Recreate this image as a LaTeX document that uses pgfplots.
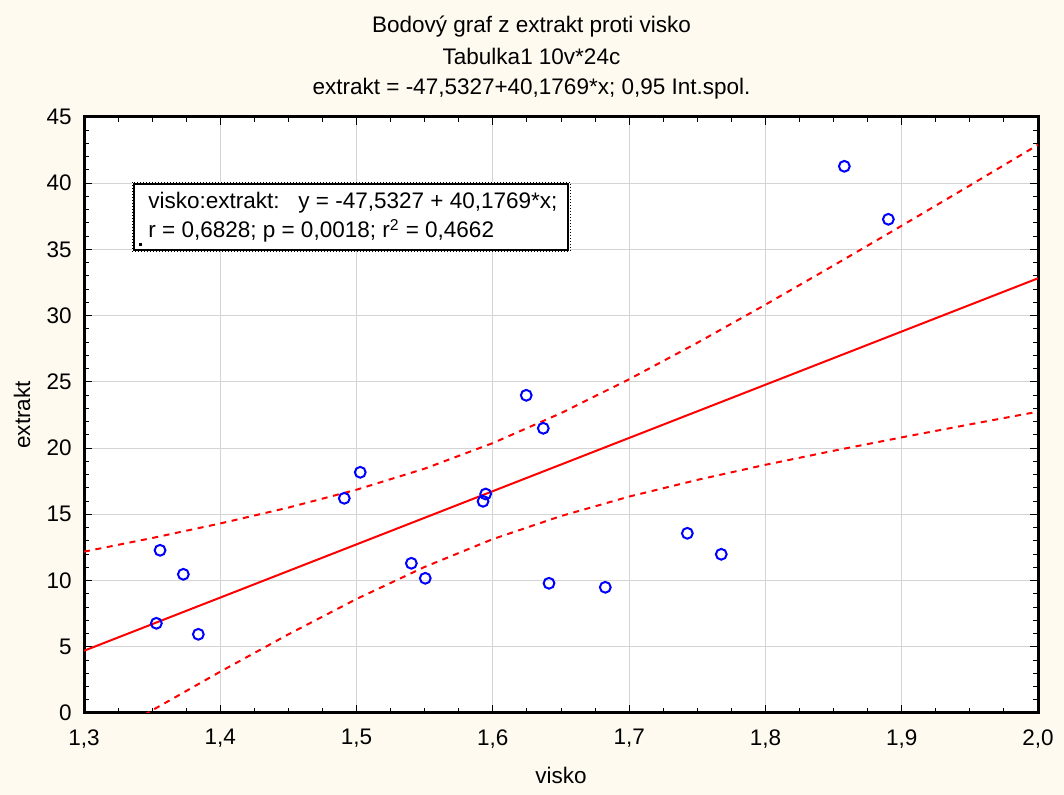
\documentclass[border=0pt]{standalone}
\usepackage{fontspec}
\setmainfont{Liberation Sans}
\usepackage{pgfplots}
\usepackage{pgfplotstable}
\pgfplotsset{compat=1.18}
\definecolor{bgcream}{RGB}{255,250,240}
\definecolor{gridgray}{RGB}{212,212,212}

\pgfplotstableread{
x y
1.3531 6.773
1.3558 12.285
1.3729 10.472
1.3839 5.942
1.4910 16.211
1.5027 18.174
1.5402 11.303
1.5504 10.170
1.5928 15.984
1.5947 16.535
1.6245 23.988
1.6370 21.496
1.6412 9.793
1.6825 9.491
1.7427 13.568
1.7676 11.983
1.8579 41.278
1.8902 37.276
}\pts

\pgfplotstableread{
x lo hi
1.30 -2.78 12.18
1.35 0.20 13.21
1.40 3.12 14.31
1.45 5.94 15.51
1.50 8.61 16.86
1.55 11.03 18.45
1.60 13.13 20.38
1.65 14.87 22.64
1.70 16.34 25.20
1.75 17.60 27.95
1.80 18.74 30.83
1.85 19.80 33.79
1.90 20.81 36.79
1.95 21.79 39.83
2.00 22.75 42.90
}\band

\begin{document}
\fontsize{11.25}{13.5}\selectfont
\begin{tikzpicture}
\fill[bgcream] (-42pt,-41pt) rectangle (490pt,356.5pt);
\begin{axis}[
  at={(0,0)}, anchor=south west,
  scale only axis, width=477pt, height=298pt,
  xmin=1.3, xmax=2.0, ymin=0, ymax=45,
  xtick={1.3,1.4,1.5,1.6,1.7,1.8,1.9,2.0},
  ytick={0,5,10,15,20,25,30,35,40,45},
  minor x tick num=3, minor y tick num=4,
  xtick pos=both, ytick pos=both,
  tick align=inside,
  major tick length=4pt, minor tick length=2.5pt,
  every tick/.style={black, line width=0.5pt},
  grid=major, major grid style={gridgray, line width=0.6pt},
  axis line style={line width=1.5pt},
  axis background/.style={fill=white},
  /pgf/number format/assume math mode=true,
  xticklabel style={/pgf/number format/.cd, fixed, fixed zerofill, precision=1, use comma, /tikz/.cd, yshift=-4.2pt},
  yticklabel style={/pgf/number format/.cd, fixed, precision=0, /tikz/.cd, xshift=-2.2pt},
  xlabel={visko},
  xlabel style={at={(axis description cs:0.5,0)}, anchor=center, yshift=-31.25pt},
  clip mode=individual,
]
\addplot[red, line width=1pt, dash pattern=on 3pt off 2.8pt] table[x=x, y=hi] {\band};
\addplot[red, line width=1pt, dash pattern=on 3pt off 2.8pt] table[x=x, y=lo] {\band};
\addplot[red, line width=1pt] coordinates {(1.3,4.6973) (2.0,32.8211)};
\addplot[only marks, mark=o, mark size=2.7pt, mark options={draw=blue, line width=1pt}] table[x=x, y=y] {\pts};

\draw[black, densely dotted, line width=0.5pt, fill=white] (axis cs:1.33522,40.09) rectangle (axis cs:1.65660,34.88);
\draw[black, line width=1.2pt] (axis cs:1.33669,39.94) rectangle (axis cs:1.65514,34.96);
\fill[black] (axis cs:1.34036,35.49) rectangle (axis cs:1.34256,35.26);
\node[anchor=base west, inner sep=0pt] at (axis cs:1.34696,38.055) {visko:extrakt:\ \ \ y = -47,5327 + 40,1769*x;};
\node[anchor=base west, inner sep=0pt] at (axis cs:1.34696,35.865) {r = 0,6828; p = 0,0018; r\textsuperscript{2} = 0,4662};
\end{axis}
\node[rotate=90, anchor=center] at (-31pt,149pt) {extrakt};
\node[anchor=base] at (223.75pt,340pt) {Bodový graf z extrakt proti visko};
\node[anchor=base] at (223.75pt,324.25pt) {Tabulka1 10v*24c};
\node[anchor=base] at (223.75pt,309.25pt) {extrakt = -47,5327+40,1769*x; 0,95 Int.spol.};
\pgfresetboundingbox
\path[use as bounding box] (-42pt,-41pt) rectangle (490pt,356.5pt);
\end{tikzpicture}
\end{document}
